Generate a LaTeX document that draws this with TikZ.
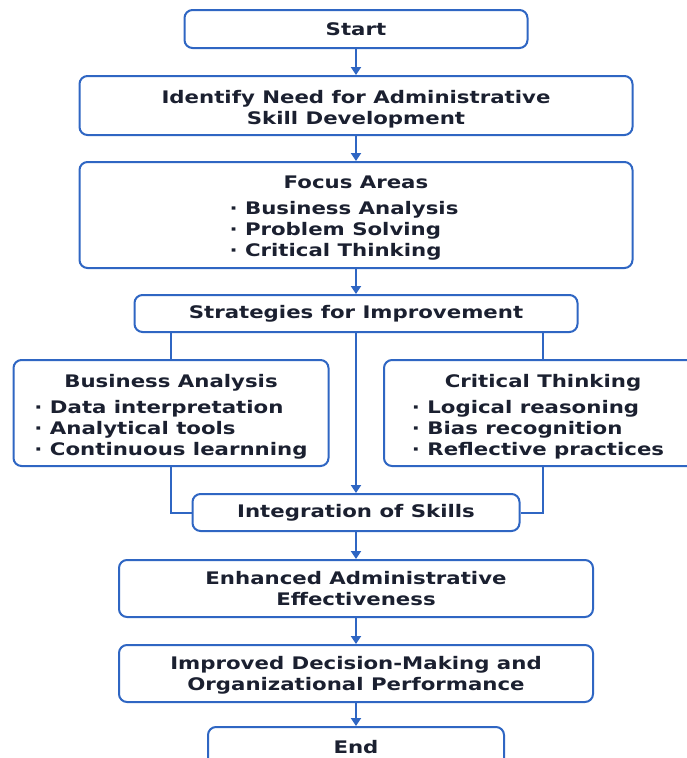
\documentclass[tikz,border=0pt]{standalone}
\usepackage{fontspec}
\newfontfamily\flowfont{DejaVu Sans Bold}[FakeStretch=1.23]
\usetikzlibrary{arrows.meta}
\definecolor{flowblue}{HTML}{2F66C3}
\definecolor{flowtext}{HTML}{1B2030}
\tikzset{
	flowbox/.style={draw=flowblue, line width=2pt, rounded corners=8pt, fill=white, text=flowtext,
		font=\flowfont\fontsize{17.3}{21}\selectfont, align=center, inner sep=0pt},
	flowline/.style={draw=flowblue, line width=2pt},
	flowarrow/.style={flowline, -{Triangle[width=10pt,length=8pt]}},
}
\newcommand{\pointlist}[1]{\begin{tabular}[t]{@{}l@{}}#1\end{tabular}}
\newcommand{\padtop}[1]{\rule{0pt}{#1}}

\begin{document}
\begin{tikzpicture}[x=1pt, y=-1pt]
			%%%%% START %%%%%
			\useasboundingbox (0, 0) rectangle (686, 758);
			
			\node[flowbox, minimum width=343pt, minimum height=38pt] (start) at (356, 29) {Start};
			\node[flowbox, minimum width=553pt, minimum height=59pt] (need) at (356, 105.5)
				{\padtop{21pt}Identify Need for Administrative\\Skill Development};
			\node[flowbox, minimum width=553pt, minimum height=106pt] (focus) at (356, 215)
				{\padtop{22pt}Focus Areas\\[5pt]\pointlist{· Business Analysis\\ · Problem Solving\\ · Critical Thinking}\kern24pt};
			
			\node[flowbox, minimum width=443pt, minimum height=37pt] (strat) at (356, 313.5) {Strategies for Improvement};
			
			\node[flowbox, minimum width=315pt, minimum height=106pt] (ba) at (171, 413)
				{\padtop{23pt}Business Analysis\\[5pt]\pointlist{· Data interpretation\\ · Analytical tools\\ · Continuous learnning}};
			\node[flowbox, minimum width=318pt, minimum height=106pt] (ct) at (543, 413)
				{\padtop{23pt}Critical Thinking\\[5pt]\pointlist{· Logical reasoning\\ · Bias recognition\\ · Reflective practices}\kern10pt};
			
			\node[flowbox, minimum width=327pt, minimum height=37pt] (integ) at (356, 512.5) {Integration of Skills};
			\node[flowbox, minimum width=474pt, minimum height=57pt] (enh) at (356, 588.5)
				{Enhanced Administrative\\Effectiveness};
			\node[flowbox, minimum width=474pt, minimum height=57pt] (imp) at (356, 673.5)
				{\padtop{17pt}Improved Decision-Making and\\Organizational Performance};
			\node[flowbox, minimum width=296pt, minimum height=40pt] (end) at (356, 747) {End};
			
			% main column
			\draw[flowarrow] (start) -- (need);
			\draw[flowarrow] (need) -- (focus);
			\draw[flowarrow] (focus) -- (strat);
			\draw[flowarrow] (strat) -- (integ);
			\draw[flowarrow] (integ) -- (enh);
			\draw[flowarrow] (enh) -- (imp);
			\draw[flowarrow] (imp) -- (end);
			
			% side branches
			\draw[flowline] (strat.south -| ba.north) -- (ba.north);
			\draw[flowline] (strat.south -| ct.north) -- (ct.north);
			\draw[flowline] (ba.south) |- (integ.west);
			\draw[flowline] (ct.south) |- (integ.east);
			%%%%% END %%%%%
\end{tikzpicture}
\end{document}
